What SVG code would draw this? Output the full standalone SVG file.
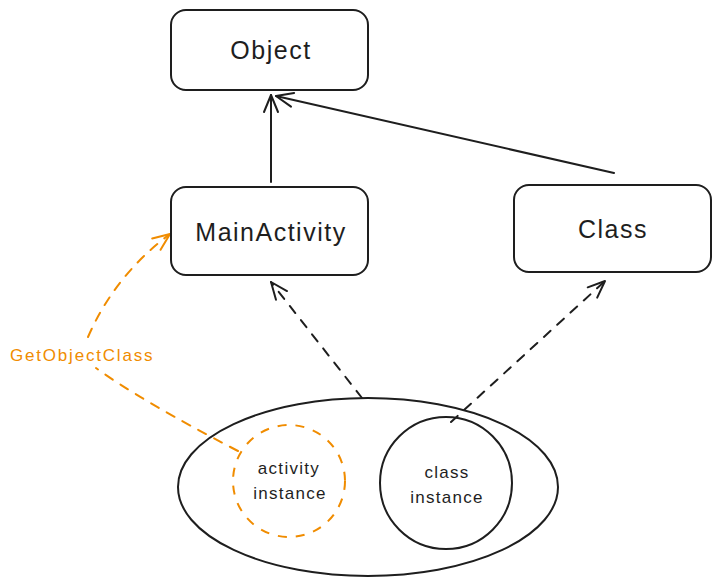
<svg xmlns="http://www.w3.org/2000/svg" width="721" height="585" viewBox="0 0 721 585">
<defs>
<marker id="ah" viewBox="-20 -10 24 20" refX="0" refY="0" markerWidth="24" markerHeight="20" markerUnits="userSpaceOnUse" orient="auto">
<path d="M-17,-7 L0,0 L-17,7" fill="none" stroke="#1e1e1e" stroke-width="2" stroke-linecap="round" stroke-linejoin="round"/>
</marker>
<marker id="aho" viewBox="-20 -10 24 20" refX="0" refY="0" markerWidth="24" markerHeight="20" markerUnits="userSpaceOnUse" orient="auto">
<path d="M-17,-7 L0,0 L-17,7" fill="none" stroke="#f08c00" stroke-width="2" stroke-linecap="round" stroke-linejoin="round"/>
</marker>
</defs>
<style>
.box{fill:#fff;stroke:#1e1e1e;stroke-width:2}
.t{font-family:"Liberation Sans",Arial,sans-serif;fill:#1e1e1e;text-anchor:middle}
.big{font-size:25px;letter-spacing:1.5px}
.small{font-size:17px;letter-spacing:1.3px}
.line{fill:none;stroke:#1e1e1e;stroke-width:2;stroke-linecap:round}
.dash{stroke-dasharray:9 9}
.or{fill:none;stroke:#f08c00;stroke-width:2;stroke-dasharray:9 9;stroke-linecap:round}
</style>
<rect width="721" height="585" fill="#fff"/>
<g id="connectors">
<line class="line" x1="271" y1="182" x2="271" y2="95" marker-end="url(#ah)"/>
<line class="line" x1="614" y1="173" x2="276" y2="96" marker-end="url(#ah)" stroke-width="3"/>
<line class="line dash" x1="362" y1="398" x2="271" y2="282" marker-end="url(#ah)"/>
<line class="line dash" x1="451" y1="422" x2="605" y2="281" marker-end="url(#ah)"/>
<path class="or" d="M238,451 Q140,400 96,368"/>
<path class="or" d="M88,337 Q115,275 170,234" marker-end="url(#aho)"/>
<text x="10" y="361" font-family="'Liberation Sans',Arial,sans-serif" font-size="17" letter-spacing="1.8" fill="#f08c00">GetObjectClass</text>
</g>
<g id="object">
<rect class="box" x="171" y="10" width="197" height="80" rx="15"/>
<text class="t big" x="271" y="59">Object</text>
</g>
<g id="mainactivity">
<rect class="box" x="171" y="187" width="197" height="88" rx="15"/>
<text class="t big" x="271" y="241">MainActivity</text>
</g>
<g id="class">
<rect class="box" x="514" y="185" width="197" height="87" rx="15"/>
<text class="t big" x="613" y="238">Class</text>
</g>
<g id="container">
<ellipse cx="368" cy="487" rx="190" ry="89" fill="none" stroke="#1e1e1e" stroke-width="2"/>
</g>
<g id="activity-instance">
<circle cx="289" cy="481" r="56" fill="none" stroke="#f08c00" stroke-width="2" stroke-dasharray="9 9"/>
<text class="t small" x="289" y="474">activity</text>
<text class="t small" x="290" y="499">instance</text>
</g>
<g id="class-instance">
<circle cx="446" cy="483" r="66" fill="none" stroke="#1e1e1e" stroke-width="2"/>
<text class="t small" x="447" y="478">class</text>
<text class="t small" x="447" y="503">instance</text>
</g>
</svg>
